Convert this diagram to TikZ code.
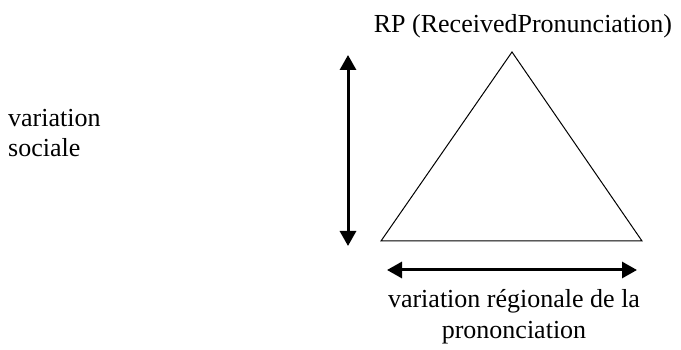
\documentclass[tikz,border=0pt]{standalone}
\usepackage{fontspec}
\setmainfont{Liberation Serif}
\usetikzlibrary{arrows.meta}
\begin{document}
\begin{tikzpicture}[x=1pt,y=-1pt,
  lbl/.style={inner sep=0pt,font=\fontsize{26}{30}\selectfont},
  bigarrow/.style={line width=3pt,{Triangle[length=15pt,width=16pt]}-{Triangle[length=15pt,width=16pt]}},
  tri/.style={line width=1pt,line join=miter}]
\useasboundingbox (0,0) rectangle (681,350);
% triangle corners
\coordinate (apex) at (512,52);
\coordinate (bl) at (381,241);
\coordinate (br) at (642,241);
\draw[tri] (apex) -- (bl) -- (br) -- cycle;
% arrows
\coordinate (vtop) at (348,55);
\coordinate (vbot) at (348,246);
\draw[bigarrow] (vtop) -- (vbot);
\coordinate (hl) at (387,270);
\coordinate (hr) at (637,270);
\draw[bigarrow] (hl) -- (hr);
% texts
\node[lbl,anchor=base] (rp) at (523,33) {RP (ReceivedPronunciation)};
\node[lbl,anchor=base west] (vs1) at (8,127) {variation};
\node[lbl,anchor=base west] (vs2) at (8,157) {sociale};
\node[lbl,anchor=base] (vr1) at (514,308) {variation régionale de la};
\node[lbl,anchor=base] (vr2) at (514,338) {prononciation};
\end{tikzpicture}
\end{document}
